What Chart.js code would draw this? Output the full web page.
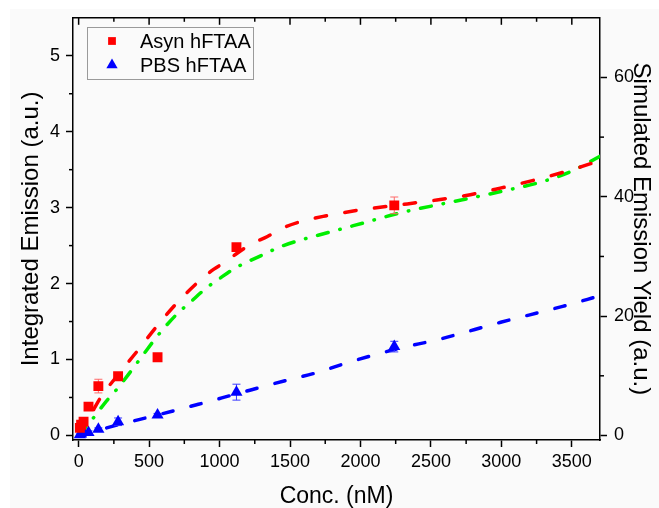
<!DOCTYPE html>
<html>
<head>
<meta charset="utf-8">
<script src="https://cdn.jsdelivr.net/npm/chart.js@4.4.1/dist/chart.umd.min.js"></script>
<style>
  html, body { margin: 0; padding: 0; background: #ffffff; }
  #wrap { position: relative; width: 659px; height: 508px; }
</style>
</head>
<body>
<div id="wrap"><canvas id="chart" width="659" height="508"></canvas></div>
<script>
// Measured points (concentration in nM, integrated emission in a.u.)
const concentrations = [8.75, 17.5, 35, 70, 140, 280, 560, 1120, 2240];
const asynEmission = [0.10, 0.14, 0.18, 0.38, 0.65, 0.78, 1.03, 2.48, 3.03];
const asynError = [0.03, 0.03, 0.03, 0.03, 0.09, 0.04, 0.03, 0.04, 0.11];
const pbsEmission = [0.01, 0.02, 0.04, 0.04, 0.08, 0.18, 0.27, 0.57, 1.17];
const pbsError = [0.01, 0.01, 0.02, 0.02, 0.02, 0.05, 0.02, 0.105, 0.07];

// Fitted curve for Asyn hFTAA (left axis)
const asynFitConc = [0, 50, 100, 160, 280, 420, 560, 700, 853, 960, 1045, 1125, 1235, 1340, 1435, 1565, 1750, 2000, 2250, 2500, 2750, 3000, 3250, 3500, 3700];
const asynFitValue = [0, 0.16, 0.32, 0.51, 0.80, 1.12, 1.45, 1.75, 2.03, 2.19, 2.29, 2.40, 2.53, 2.62, 2.72, 2.81, 2.89, 2.97, 3.03, 3.09, 3.16, 3.26, 3.37, 3.50, 3.62];

// Simulated emission yield (right axis)
const simConc = [0, 100, 200, 280, 445, 567, 700, 800, 900, 1000, 1100, 1300, 1450, 1800, 2050, 2280, 2640, 3000, 3300, 3500, 3700];
const simYield = [0, 2.8, 5.85, 8.0, 13.1, 16.9, 20.4, 22.5, 24.6, 26.3, 27.9, 30.2, 31.8, 34.2, 35.8, 37.3, 39.1, 40.9, 42.6, 44.3, 46.8];

// Fitted curve for PBS hFTAA (left axis)
const pbsFitConc = [0, 140, 280, 560, 850, 1125, 1483, 1696, 1911, 2260, 2566, 2995, 3435, 3700];
const pbsFitValue = [0, 0.07, 0.14, 0.27, 0.41, 0.55, 0.73, 0.83, 0.96, 1.14, 1.27, 1.49, 1.70, 1.84];

// Axis ticks
const xMajorTicks = [0, 500, 1000, 1500, 2000, 2500, 3000, 3500];
const xMinorTicks = [250, 750, 1250, 1750, 2250, 2750, 3250];
const leftMajorTicks = [0, 1, 2, 3, 4, 5];
const leftMinorTicks = [0.5, 1.5, 2.5, 3.5, 4.5];
const rightMajorTicks = [0, 20, 40, 60];
const rightMinorTicks = [10, 30, 50];

const FONT = "'Liberation Sans', Arial, sans-serif";

function toPoints(xs, ys) {
    return xs.map((x, i) => ({ x: x, y: ys[i] }));
}

function fixedTicks(values) {
    return (scale) => {
        scale.ticks = values.map(v => ({ value: v }));
    };
}

const backgroundPlugin = {
    id: 'background',
    beforeDraw(chart) {
        const ctx = chart.ctx;
        ctx.save();
        ctx.fillStyle = '#ffffff';
        ctx.fillRect(0, 0, chart.width, chart.height);
        ctx.fillStyle = '#fafafa';
        ctx.fillRect(10, 9, chart.width - 10, chart.height - 9);
        ctx.restore();
    }
};

// error bars drawn just before the marker dataset they belong to
const errorBarPlugin = {
    id: 'errorBars',
    beforeDatasetDraw(chart, args) {
        const ds = chart.data.datasets[args.index];
        if (!ds.errors) {
            return;
        }
        const { ctx, scales } = chart;
        const yScale = scales[ds.yAxisID];
        ctx.save();
        ctx.strokeStyle = ds.errorColor;
        ctx.lineWidth = 1;
        ds.data.forEach((p, i) => {
            const err = ds.errors[i];
            const px = scales.x.getPixelForValue(p.x);
            const top = yScale.getPixelForValue(p.y + err);
            const bottom = yScale.getPixelForValue(p.y - err);
            ctx.beginPath();
            ctx.moveTo(px, top);
            ctx.lineTo(px, bottom);
            ctx.moveTo(px - 4, top);
            ctx.lineTo(px + 4, top);
            ctx.moveTo(px - 4, bottom);
            ctx.lineTo(px + 4, bottom);
            ctx.stroke();
        });
        ctx.restore();
    }
};

// top frame line, inward ticks on top, and minor ticks everywhere
const frameTicksPlugin = {
    id: 'frameTicks',
    afterDraw(chart) {
        const { ctx, chartArea: a, scales } = chart;
        const seg = (x1, y1, x2, y2) => {
            ctx.beginPath();
            ctx.moveTo(x1, y1);
            ctx.lineTo(x2, y2);
            ctx.stroke();
        };
        ctx.save();
        ctx.strokeStyle = '#000000';
        ctx.lineWidth = 1.5;
        seg(a.left, a.top, a.right, a.top);
        xMajorTicks.forEach(v => {
            const px = scales.x.getPixelForValue(v);
            seg(px, a.top, px, a.top + 7);
        });
        xMinorTicks.forEach(v => {
            const px = scales.x.getPixelForValue(v);
            seg(px, a.top, px, a.top + 4);
            seg(px, a.bottom, px, a.bottom + 4);
        });
        leftMinorTicks.forEach(v => {
            const py = scales.y.getPixelForValue(v);
            seg(a.left - 4, py, a.left, py);
        });
        rightMinorTicks.forEach(v => {
            const py = scales.y1.getPixelForValue(v);
            seg(a.right, py, a.right + 4, py);
        });
        ctx.restore();
    }
};

const legendBoxPlugin = {
    id: 'legendBox',
    afterDraw(chart) {
        const ctx = chart.ctx;
        const entries = chart.data.datasets.filter(ds => ds.inLegend);
        ctx.save();
        ctx.strokeStyle = '#9a9a9a';
        ctx.lineWidth = 1;
        ctx.strokeRect(87.5, 27.5, 166, 52);
        ctx.font = '20px ' + FONT;
        ctx.textBaseline = 'middle';
        entries.forEach((ds, i) => {
            const cy = 41 + i * 24;
            ctx.fillStyle = ds.backgroundColor;
            ctx.strokeStyle = ds.backgroundColor;
            Chart.helpers.drawPoint(ctx, {
                pointStyle: ds.pointStyle,
                radius: ds.legendRadius,
                borderWidth: 0,
                rotation: 0
            }, 112, cy);
            ctx.fillStyle = '#000000';
            ctx.fillText(ds.label, 140, cy + 1);
        });
        ctx.restore();
    }
};

const tickFont = { family: FONT, size: 18 };
const titleFont = { family: FONT, size: 23, lineHeight: 1 };
const sideTitleFont = { family: FONT, size: 24, lineHeight: 1 };
const tickGrid = {
    drawOnChartArea: false,
    drawTicks: true,
    tickLength: 7,
    tickWidth: 1.5,
    tickColor: '#000000'
};
const axisBorder = { display: true, color: '#000000', width: 1.5 };

new Chart(document.getElementById('chart'), {
    type: 'scatter',
    data: {
        datasets: [
            {
                label: 'Asyn hFTAA',
                data: toPoints(concentrations, asynEmission),
                errors: asynError,
                errorColor: '#ff6a6a',
                inLegend: true,
                legendRadius: 5.5,
                pointStyle: 'rect',
                pointRadius: 7,
                pointHoverRadius: 7,
                backgroundColor: '#ff0000',
                borderColor: '#ff0000',
                borderWidth: 0,
                yAxisID: 'y',
                order: 0
            },
            {
                label: 'PBS hFTAA',
                data: toPoints(concentrations, pbsEmission),
                errors: pbsError,
                errorColor: '#3a3aff',
                inLegend: true,
                legendRadius: 6.5,
                pointStyle: 'triangle',
                pointRadius: 7,
                pointHoverRadius: 7,
                backgroundColor: '#0000ff',
                borderColor: '#0000ff',
                borderWidth: 0,
                yAxisID: 'y',
                order: 0
            },
            {
                label: 'Asyn hFTAA fit',
                data: toPoints(asynFitConc, asynFitValue),
                showLine: true,
                pointRadius: 0,
                borderColor: '#ff0000',
                borderWidth: 3.5,
                borderDash: [11.5, 18.5],
                borderCapStyle: 'round',
                cubicInterpolationMode: 'monotone',
                yAxisID: 'y',
                order: 2
            },
            {
                label: 'Simulated emission yield',
                data: toPoints(simConc, simYield),
                showLine: true,
                pointRadius: 0,
                borderColor: '#00ee00',
                borderWidth: 3.5,
                borderDash: [11, 12, 0.5, 12],
                borderCapStyle: 'round',
                cubicInterpolationMode: 'monotone',
                yAxisID: 'y1',
                order: 2
            },
            {
                label: 'PBS hFTAA fit',
                data: toPoints(pbsFitConc, pbsFitValue),
                showLine: true,
                pointRadius: 0,
                borderColor: '#0000ff',
                borderWidth: 3.5,
                borderDash: [10.5, 18.5],
                borderCapStyle: 'round',
                cubicInterpolationMode: 'monotone',
                yAxisID: 'y',
                order: 2
            }
        ]
    },
    options: {
        responsive: false,
        animation: false,
        devicePixelRatio: 1,
        layout: { padding: { top: 15, left: 0, right: 0, bottom: 0 } },
        plugins: {
            legend: { display: false },
            tooltip: { enabled: false }
        },
        scales: {
            x: {
                type: 'linear',
                min: -40,
                max: 3700,
                afterBuildTicks: fixedTicks(xMajorTicks),
                afterFit: (scale) => { scale.height = 68; },
                ticks: {
                    color: '#000000',
                    font: tickFont,
                    padding: 4,
                    maxRotation: 0,
                    autoSkip: false,
                    callback: (v) => String(v)
                },
                grid: tickGrid,
                border: axisBorder,
                title: {
                    display: true,
                    text: 'Conc. (nM)',
                    color: '#000000',
                    font: titleFont,
                    padding: { top: 0, bottom: 0 }
                }
            },
            y: {
                type: 'linear',
                position: 'left',
                min: -0.06,
                max: 5.5,
                afterBuildTicks: fixedTicks(leftMajorTicks),
                afterFit: (scale) => { scale.width = 73; },
                ticks: {
                    color: '#000000',
                    font: tickFont,
                    padding: 6,
                    autoSkip: false,
                    callback: (v) => String(v)
                },
                grid: tickGrid,
                border: axisBorder,
                title: {
                    display: true,
                    text: 'Integrated Emission (a.u.)',
                    color: '#000000',
                    font: sideTitleFont,
                    padding: { top: 19, bottom: 0 }
                }
            },
            y1: {
                type: 'linear',
                position: 'right',
                min: -0.76,
                max: 70,
                afterBuildTicks: fixedTicks(rightMajorTicks),
                afterFit: (scale) => { scale.width = 59; },
                ticks: {
                    color: '#000000',
                    font: tickFont,
                    padding: 7,
                    autoSkip: false,
                    callback: (v) => String(v)
                },
                grid: tickGrid,
                border: axisBorder,
                title: {
                    display: true,
                    text: 'Simulated Emission Yield (a.u.)',
                    color: '#000000',
                    font: sideTitleFont,
                    padding: { top: 6, bottom: 0 }
                }
            }
        }
    },
    plugins: [backgroundPlugin, errorBarPlugin, frameTicksPlugin, legendBoxPlugin]
});
</script>
</body>
</html>
